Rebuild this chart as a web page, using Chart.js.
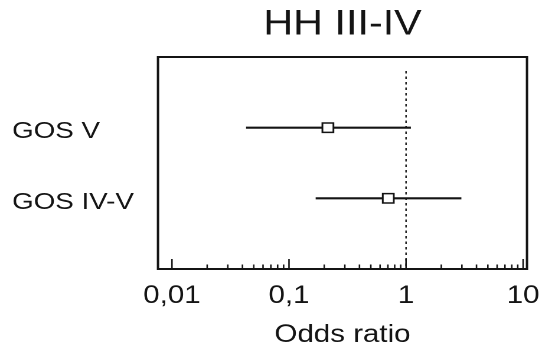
<!DOCTYPE html>
<html><head><meta charset="utf-8">
<script src="https://cdn.jsdelivr.net/npm/chart.js@4"></script>
<style>
html,body{margin:0;padding:0;background:#fff;overflow:hidden;}
#wrap{width:459px;height:353px;transform:scaleX(1.1808);transform-origin:0 0;}
</style></head><body>
<div id="wrap"><canvas id="c" width="459" height="353"></canvas></div>
<script>
const titleText = 'HH III-IV';
const axisTitle = 'Odds ratio';
const outcomes = ['GOS V', 'GOS IV-V'];
const oddsRatio = [0.215, 0.705];
const ciLower = [0.043, 0.169];
const ciUpper = [1.10, 2.97];
const referenceValue = 1;
const tickValues = [0.01, 0.1, 1, 10];
const tickLabels = ['0,01', '0,1', '1', '10'];
const minorMultipliers = [2, 3, 4, 5, 6, 7, 8, 9];
const xMin = 0.0076, xMax = 10.8;

const FONT = '"Liberation Sans", Arial, sans-serif';
const INK = '#141414';

const ciSets = outcomes.map((o, i) => ({
  data: [{x: ciLower[i], y: o}, {x: ciUpper[i], y: o}],
  showLine: true, borderColor: INK, borderWidth: 2.2, pointRadius: 0, order: 1
}));
const pointSet = {
  data: outcomes.map((o, i) => ({x: oddsRatio[i], y: o})),
  pointStyle: 'rect', pointRadius: 6.6, backgroundColor: '#fff',
  borderColor: INK, borderWidth: 1.5, order: 0
};

const framePlugin = {
  id: 'frame',
  beforeDatasetsDraw(chart) {
    const {ctx, chartArea: a, scales: {x}} = chart;
    ctx.save();
    const rx = x.getPixelForValue(referenceValue);
    ctx.strokeStyle = INK; ctx.lineWidth = 1.2;
    ctx.setLineDash([2.5, 3]);
    ctx.beginPath(); ctx.moveTo(rx, a.top + 14); ctx.lineTo(rx, a.bottom); ctx.stroke();
    ctx.setLineDash([]);
    ctx.lineWidth = 1.3;
    const marks = [];
    tickValues.forEach((d, i) => {
      marks.push([d, 10]);
      if (i < tickValues.length - 1) minorMultipliers.forEach(m => marks.push([d * m, 4.5]));
    });
    marks.forEach(([v, len]) => {
      const px = x.getPixelForValue(v);
      ctx.beginPath(); ctx.moveTo(px, a.bottom); ctx.lineTo(px, a.bottom - len); ctx.stroke();
    });
    ctx.lineWidth = 2;
    ctx.strokeRect(a.left, a.top, a.right - a.left, a.bottom - a.top);
    ctx.restore();
  }
};

new Chart(document.getElementById('c'), {
  type: 'scatter',
  data: {datasets: [...ciSets, pointSet]},
  options: {
    responsive: false, animation: false, devicePixelRatio: 2,
    layout: {padding: {left: 10.2, right: 12.7, top: 0, bottom: 0}},
    plugins: {
      legend: {display: false}, tooltip: {enabled: false},
      title: {display: true, text: titleText, fullSize: false, color: INK,
        font: {family: FONT, size: 35, weight: 'normal', lineHeight: 1.2},
        padding: {top: 4, bottom: 11}}
    },
    scales: {
      x: {
        type: 'logarithmic', min: xMin, max: xMax,
        grid: {display: false, drawTicks: false}, border: {display: false},
        ticks: {
          autoSkip: false, maxRotation: 0, padding: 12, color: INK,
          font: {family: FONT, size: 25, lineHeight: 1.2},
          callback: (v) => {
            const i = tickValues.findIndex(t => Math.abs(Math.log10(v) - Math.log10(t)) < 1e-6);
            return i >= 0 ? tickLabels[i] : '';
          }
        },
        title: {display: true, text: axisTitle, color: INK,
          font: {family: FONT, size: 25, lineHeight: 1.2}, padding: {top: 9, bottom: 3}},
        afterFit: (s) => { s.height = 84; }
      },
      y: {
        type: 'category', labels: ['', ...outcomes, ''], offset: false,
        grid: {display: false, drawTicks: false}, border: {display: false},
        ticks: {crossAlign: 'far', padding: 0, labelOffset: 4, color: INK,
          font: {family: FONT, size: 23.5, lineHeight: 1.2}},
        afterFit: (s) => { s.width = 123.6; }
      }
    }
  },
  plugins: [framePlugin]
});
</script>
</body></html>
